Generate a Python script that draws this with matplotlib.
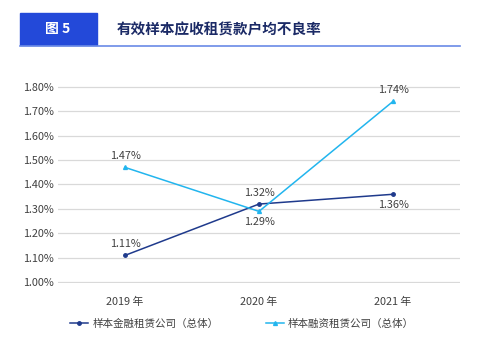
import matplotlib.pyplot as plt
from matplotlib.patches import Rectangle
from matplotlib.lines import Line2D

plt.rcParams['font.family'] = ['Noto Sans CJK SC', 'DejaVu Sans']

years = ['2019 年', '2020 年', '2021 年']
finLease = [1.11, 1.32, 1.36]
finRent = [1.47, 1.29, 1.74]
finLeaseName = '样本金融租赁公司（总体）'
finRentName = '样本融资租赁公司（总体）'
yticks = [1.0, 1.1, 1.2, 1.3, 1.4, 1.5, 1.6, 1.7, 1.8]

darkBlue = '#1F3A8C'
lightBlue = '#22B5EE'
textColor = '#404040'

fig = plt.figure(figsize=(4.78, 3.45), dpi=100)

# header block
fig.patches.append(Rectangle((20 / 478, 1 - 45 / 345), 77 / 478, 32 / 345,
                             transform=fig.transFigure, color='#2349D9', zorder=1))
fig.lines.append(Line2D([20 / 478, 460 / 478], [1 - 45.5 / 345, 1 - 45.5 / 345],
                        transform=fig.transFigure, color='#6A8AE6', lw=1.2))
fig.text(58 / 478, 1 - 29 / 345, '图 5', color='white', fontsize=10, fontweight='bold',
         ha='center', va='center')
fig.text(117 / 478, 1 - 29 / 345, '有效样本应收租赁款户均不良率', color='#1B2A66',
         fontsize=10.5, fontweight='bold', ha='left', va='center')

ax = fig.add_axes([58 / 478, 1 - 283 / 345, 402 / 478, 197 / 345])
x = list(range(len(years)))
ax.plot(x, finLease, color=darkBlue, lw=1.1, marker='o', ms=2.5, zorder=3)
ax.plot(x, finRent, color=lightBlue, lw=1.1, marker='^', ms=2.8, zorder=3)

ax.set_xlim(-0.5, 2.5)
ax.set_ylim(0.997, 1.803)
ax.set_yticks(yticks)
ax.set_yticklabels(['%.2f%%' % v for v in yticks])
ax.set_xticks(x)
ax.set_xticklabels(years)
ax.tick_params(length=0, labelsize=7.8, colors=textColor)
ax.tick_params(axis='x', pad=10)
ax.tick_params(axis='y', pad=3)
ax.grid(axis='y', color='#D9D9D9', lw=0.9)
ax.set_axisbelow(True)
for s in ax.spines.values():
    s.set_visible(False)

# value labels: above or below each point
leasePos = [1, 1, -1]
rentPos = [1, -1, 1]
for xi, v, p in zip(x, finLease, leasePos):
    ax.annotate('%.2f%%' % v, (xi, v), xytext=(0, 8 * p), textcoords='offset points',
                ha='center', va='center', fontsize=7.8, color=textColor)
for xi, v, p in zip(x, finRent, rentPos):
    ax.annotate('%.2f%%' % v, (xi, v), xytext=(0, 8 * p), textcoords='offset points',
                ha='center', va='center', fontsize=7.8, color=textColor)

handles = [Line2D([], [], color=darkBlue, lw=1.1, marker='o', ms=2.5),
           Line2D([], [], color=lightBlue, lw=1.1, marker='^', ms=2.8)]
fig.legend(handles, [finLeaseName, finRentName], loc='center', ncol=2,
           bbox_to_anchor=(0.5 + 3 / 478, 1 - 324 / 345), frameon=False, fontsize=7.6,
           handlelength=1.7, handletextpad=0.4, columnspacing=4.5, labelcolor=textColor)

fig.savefig('out.png', dpi=100)
